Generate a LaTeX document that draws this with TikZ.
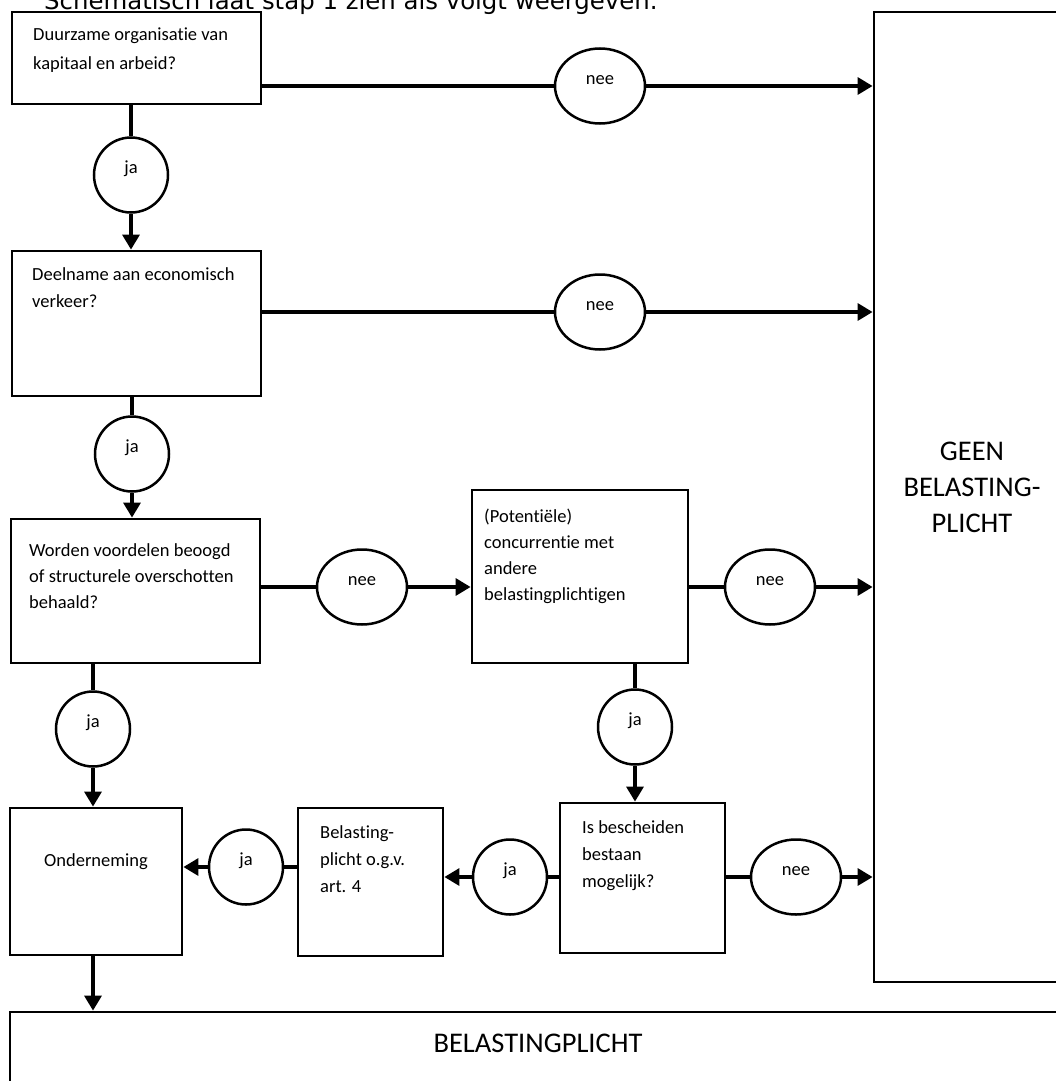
\documentclass[tikz,border=0pt]{standalone}
\usepackage{fontspec}
\setmainfont{Carlito}[Ligatures=NoCommon]
\newfontfamily\titlefont{DejaVu Sans}
\usetikzlibrary{shapes.geometric,arrows.meta,calc}
\begin{document}
\begin{tikzpicture}[x=1pt,y=-1pt,
  bx/.style={draw, line width=2.8pt, rectangle, inner sep=0pt},
  oval/.style={draw, line width=2.5pt, ellipse, inner sep=0pt,
    font=\fontsize{18.5}{22}\selectfont, text height=4pt, text depth=7pt},
  neeov/.style={oval, minimum width=90pt, minimum height=75pt},
  jaov/.style={oval, minimum width=74pt, minimum height=75pt},
  txt/.style={inner sep=0pt, anchor=north west, align=left},
  con/.style={line width=3.2pt},
  arr/.style={con, -{Triangle[length=15pt,width=17pt]}},
  big/.style={inner sep=0pt, align=center, font=\fontsize{28.5}{36}\selectfont},
]
\clip (0,0) rectangle (1056,1081);

% title (cut off at the top)
\node[anchor=base west, inner sep=0pt, font=\titlefont\fontsize{24.4}{28}\selectfont]
  (title) at (44,10) {Schematisch laat stap 1 zien als volgt weergeven.};

% boxes
\node[bx, minimum width=249pt, minimum height=92pt]  (b1)  at (136.5,58) {};
\node[bx, minimum width=249pt, minimum height=145pt] (b2)  at (136.5,323.5) {};
\node[bx, minimum width=249pt, minimum height=144pt] (b3)  at (135.5,591) {};
\node[bx, minimum width=216pt, minimum height=173pt] (b4)  at (580,576.5) {};
\node[bx, minimum width=172pt, minimum height=147pt] (ond) at (96,881.5) {};
\node[bx, minimum width=145pt, minimum height=148pt] (art) at (370.5,882) {};
\node[bx, minimum width=165pt, minimum height=150pt] (isb) at (642.5,878) {};
\node[bx, minimum width=200pt, minimum height=970pt] (geen) at (974,497) {};
\node[bx, minimum width=1070pt, minimum height=100pt] (bp) at (545,1062) {};

% box texts
\node[txt, font=\fontsize{18.5}{29}\selectfont] (t1) at (33,25)
  {\rule{0pt}{15pt}Duurzame organisatie van\\kapitaal en arbeid?};
\node[txt, font=\fontsize{18.5}{27}\selectfont] (t2) at (32,265)
  {\rule{0pt}{15pt}Deelname aan economisch\\verkeer?};
\node[txt, font=\fontsize{18.5}{26}\selectfont] (t3) at (29,541)
  {\rule{0pt}{15pt}Worden voordelen beoogd\\of structurele overschotten\\behaald?};
\node[txt, font=\fontsize{18.5}{26}\selectfont] (t4) at (484,507)
  {\rule{0pt}{15pt}(Potentiële)\\concurrentie met\\andere\\belastingplichtigen};
\node[txt, font=\fontsize{18.5}{27}\selectfont] (t5) at (320,823)
  {\rule{0pt}{15pt}Belasting-\\plicht o.g.v.\\art. 4};
\node[txt, font=\fontsize{18.5}{27}\selectfont] (t6) at (582,818)
  {\rule{0pt}{15pt}Is bescheiden\\bestaan\\mogelijk?};
\node[inner sep=0pt, anchor=base, font=\fontsize{18.5}{22}\selectfont] (t7) at (96,866) {Onderneming};
\node[big, anchor=north] (tg) at (972,438) {\rule{0pt}{22pt}GEEN\\BELASTING-\\PLICHT};
\node[big, anchor=base] (tb) at (538,1052) {BELASTINGPLICHT};

% ovals
\node[neeov] (n1) at (600,86) {nee};
\node[neeov] (n2) at (600,312) {nee};
\node[neeov] (n3) at (362,587) {nee};
\node[neeov] (n4) at (770,587) {nee};
\node[neeov] (n5) at (796,877) {nee};
\node[jaov] (j1) at (131,175) {ja};
\node[jaov] (j2) at (132,454) {ja};
\node[jaov] (j3) at (93,729) {ja};
\node[jaov] (j4) at (635,727) {ja};
\node[jaov] (j5) at (246,867) {ja};
\node[jaov] (j6) at (510,877) {ja};

% connectors
\draw[con] (b1.east |- n1) -- (n1.west);
\draw[arr] (n1.east) -- (n1 -| geen.west);
\draw[con] (b1.south -| j1) -- (j1.north);
\draw[arr] (j1.south) -- (j1 |- b2.north);
\draw[con] (b2.east |- n2) -- (n2.west);
\draw[arr] (n2.east) -- (n2 -| geen.west);
\draw[con] (b2.south -| j2) -- (j2.north);
\draw[arr] (j2.south) -- (j2 |- b3.north);
\draw[con] (b3.east |- n3) -- (n3.west);
\draw[arr] (n3.east) -- (n3 -| b4.west);
\draw[con] (b4.east |- n4) -- (n4.west);
\draw[arr] (n4.east) -- (n4 -| geen.west);
\draw[con] (b3.south -| j3) -- (j3.north);
\draw[arr] (j3.south) -- (j3 |- ond.north);
\draw[con] (b4.south -| j4) -- (j4.north);
\draw[arr] (j4.south) -- (j4 |- isb.north);
\draw[con] (isb.west |- j6) -- (j6.east);
\draw[arr] (j6.west) -- (j6 -| art.east);
\draw[con] (art.west |- j5) -- (j5.east);
\draw[arr] (j5.west) -- (j5 -| ond.east);
\draw[con] (isb.east |- n5) -- (n5.west);
\draw[arr] (n5.east) -- (n5 -| geen.west);
\draw[arr] (ond.south -| j3) -- (j3 |- bp.north);
\end{tikzpicture}
\end{document}
